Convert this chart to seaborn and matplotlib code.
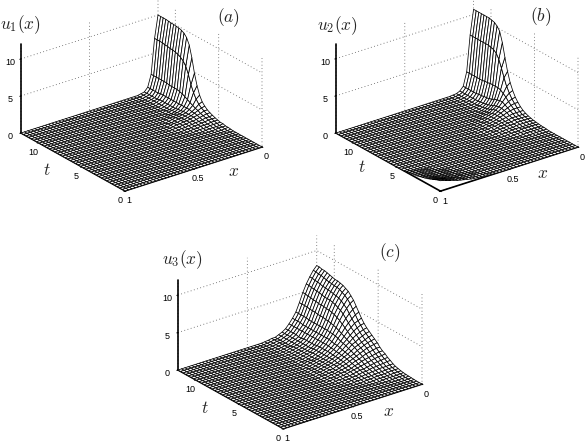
import numpy as np
import matplotlib
matplotlib.use('Agg')
import matplotlib.pyplot as plt
import seaborn as sns
from mpl_toolkits.mplot3d import proj3d

# rows run from t=12 down to t=0, columns from x=0 up, trailing zeros left out
u1_rows = [
    [10, 7, 2.3, .7, .2, .1], [10, 7, 2.3, .7, .2, .1], [10, 7, 2.3, .7, .2, .1], [10, 7, 2.3, .7, .2, .1],
    [9.95, 6.9, 2.3, .7, .2, .1], [9.9, 6.9, 2.3, .8, .2, .1], [9.9, 6.8, 2.3, .8, .3, .1],
    [9.85, 6.8, 2.2, .8, .3, .1], [9.8, 6.7, 2.2, .8, .3, .1], [9.7, 6.6, 2.2, .8, .3, .1],
    [9.5, 6.4, 2.2, .8, .3, .1], [9.1, 6.1, 2.1, .8, .3, .1, .1], [8.3, 5.6, 2, .8, .3, .2, .1],
    [6.8, 4.7, 1.8, .8, .4, .2, .1, .1], [4.9, 3.5, 1.6, .8, .4, .3, .2, .2, .1],
    [3.4, 2.6, 1.4, .8, .5, .3, .3, .2, .2, .1], [2.3, 1.9, 1.2, .8, .5, .4, .3, .3, .2, .1],
    [1.6, 1.4, 1, .7, .5, .4, .3, .3, .2, .1, .1], [1.2, 1.1, .9, .7, .5, .4, .3, .3, .2, .2, .1],
    [.9, .9, .7, .6, .5, .4, .3, .3, .2, .2, .1, .05], [.7, .7, .6, .5, .4, .3, .3, .2, .2, .1, .1, .05],
    [.55, .5, .5, .4, .3, .3, .2, .2, .1, .1, .05], [.4, .4, .4, .3, .3, .2, .2, .1, .1, .05],
    [.3, .3, .3, .2, .2, .2, .1, .1, .05], [.2, .2, .2, .2, .1, .1, .1, .05],
    [.2, .1, .1, .1, .1, .05], [.1, .1, .1, .05], [.1, .05], [.05],
]
u2_rows = [
    [10.7, 7.4, 2.6, .8, .3, .1, .05], [10.7, 7.4, 2.6, .8, .3, .1, .05], [10.7, 7.4, 2.6, .8, .3, .1, .05],
    [10.7, 7.4, 2.6, .8, .3, .1, .05], [10.7, 7.4, 2.6, .8, .3, .1, .05], [10.7, 7.4, 2.6, .8, .3, .1, .05],
    [10.7, 7.4, 2.6, .9, .3, .1, .05], [10.6, 7.4, 2.7, .9, .3, .1, .05], [10.5, 7.3, 2.7, 1, .4, .1, .05],
    [10.2, 7.2, 2.8, 1, .4, .2, .1], [9.7, 6.9, 2.8, 1.1, .5, .2, .1], [8.4, 6.3, 2.8, 1.2, .6, .3, .1, .05],
    [6.6, 5.3, 2.8, 1.4, .7, .4, .2, .1, .05], [4.9, 4.2, 2.7, 1.5, .9, .5, .3, .2, .1, .05],
    [3.6, 3.2, 2.4, 1.6, 1, .7, .4, .3, .2, .1, .05], [2.7, 2.5, 2.1, 1.6, 1.1, .8, .5, .4, .2, .2, .1, .05],
    [2, 1.9, 1.7, 1.4, 1.1, .8, .6, .4, .3, .2, .1, .1, .05], [1.5, 1.5, 1.4, 1.2, 1, .8, .6, .4, .3, .2, .2, .1, .05],
    [1.1, 1.1, 1.1, 1, .9, .7, .6, .4, .3, .2, .2, .1, .1, .05], [.8, .8, .8, .8, .7, .6, .5, .4, .3, .2, .2, .1, .1, .05],
    [.6, .6, .6, .6, .6, .5, .4, .4, .3, .2, .2, .1, .1, .05], [.45, .5, .5, .5, .5, .4, .4, .3, .3, .2, .1, .1, .05],
    [.35, .4, .4, .4, .4, .3, .3, .3, .2, .2, .1, .1, .05], [.25, .3, .3, .3, .3, .3, .2, .2, .2, .1, .1, .05],
    [.2, .2, .2, .2, .2, .2, .2, .2, .1, .1, .05], [.15, .2, .2, .2, .2, .2, .1, .1, .1, .05],
    [.1, .1, .1, .1, .1, .1, .1, .1, .05], [.1, .1, .1, .1, .1, .1, .05], [.05, .05, .05, .05, .05],
]
# lifted corner of u2: rows from t=0 up, columns from x=1 down
u2_corner_rows = [
    [1.4, 1.3, 1.15, 1, .85, .7, .6, .5, .4, .3, .25, .2, .15, .1, .08, .05, .03],
    [1.3, 1.2, 1.05, .9, .8, .65, .55, .45, .35, .3, .2, .15, .1, .1, .05],
    [1.15, 1.05, .95, .8, .7, .6, .5, .4, .3, .25, .2, .15, .1, .05],
    [1, .9, .8, .7, .6, .5, .4, .35, .3, .2, .15, .1, .05],
    [.85, .8, .7, .6, .5, .45, .35, .3, .2, .15, .1, .05],
    [.7, .65, .6, .5, .45, .35, .3, .25, .2, .1, .05],
    [.6, .55, .5, .4, .35, .3, .25, .2, .15, .1, .05],
    [.5, .45, .4, .35, .3, .25, .2, .15, .1, .05],
    [.4, .35, .3, .3, .25, .2, .15, .1, .05],
    [.3, .3, .25, .2, .2, .15, .1, .05],
    [.25, .2, .2, .15, .15, .1, .05],
    [.2, .15, .15, .1, .1, .05],
    [.15, .1, .1, .05],
    [.1, .05],
]
u3_rows = [
    [8, 7.5, 6.8, 6, 5, 3.8, 2.7, 2, 1.4, .9, .6, .4, .2, .2, .1, .05],
    [8, 7.5, 6.8, 6, 5, 3.8, 2.7, 2, 1.4, .9, .6, .4, .2, .2, .1, .05],
    [7.9, 7.4, 6.7, 5.9, 4.9, 3.8, 2.7, 2, 1.4, .9, .6, .4, .2, .2, .1, .05],
    [7.9, 7.4, 6.7, 5.9, 4.9, 3.8, 2.7, 2, 1.4, .9, .6, .4, .2, .2, .1, .05],
    [7.8, 7.3, 6.6, 5.8, 4.8, 3.7, 2.7, 1.9, 1.4, .9, .6, .4, .2, .2, .1, .05],
    [7.7, 7.2, 6.5, 5.8, 4.8, 3.7, 2.6, 1.9, 1.4, .8, .6, .4, .2, .2, .1, .05],
    [7.6, 7.1, 6.5, 5.7, 4.7, 3.7, 2.6, 1.9, 1.4, .8, .6, .4, .2, .2, .1, .05],
    [7.5, 7.1, 6.4, 5.6, 4.7, 3.6, 2.6, 1.9, 1.4, .9, .6, .4, .3, .2, .1, .05],
    [7.5, 7, 6.4, 5.6, 4.7, 3.6, 2.6, 1.9, 1.4, .9, .6, .4, .3, .2, .1, .05],
    [7.4, 7, 6.3, 5.6, 4.6, 3.6, 2.6, 1.9, 1.4, .9, .6, .4, .3, .2, .1, .05],
    [7.3, 6.9, 6.2, 5.5, 4.6, 3.5, 2.6, 1.9, 1.4, .9, .6, .4, .3, .2, .1, .05],
    [7.1, 6.7, 6.1, 5.4, 4.5, 3.5, 2.6, 1.9, 1.4, .9, .6, .4, .3, .2, .1, .05],
    [6.9, 6.5, 5.9, 5.2, 4.4, 3.4, 2.6, 1.9, 1.4, 1, .7, .4, .3, .2, .1, .05],
    [6.5, 6.2, 5.6, 5, 4.2, 3.3, 2.5, 1.9, 1.4, 1, .7, .5, .3, .2, .1, .1],
    [6.1, 5.8, 5.3, 4.7, 4, 3.2, 2.5, 1.9, 1.4, 1, .7, .5, .3, .2, .1, .1],
    [5.5, 5.2, 4.8, 4.3, 3.7, 3, 2.4, 1.8, 1.4, 1, .7, .5, .3, .2, .2, .1],
    [4.9, 4.7, 4.3, 3.9, 3.4, 2.8, 2.3, 1.7, 1.3, 1, .7, .5, .4, .3, .2, .1, .05],
    [4.3, 4.1, 3.9, 3.5, 3.1, 2.6, 2.1, 1.7, 1.3, 1, .7, .5, .4, .3, .2, .1, .05],
    [3.8, 3.7, 3.5, 3.2, 2.8, 2.4, 2, 1.6, 1.2, .9, .7, .5, .4, .3, .2, .1, .1],
    [3.4, 3.3, 3.1, 2.9, 2.6, 2.2, 1.9, 1.5, 1.2, .9, .7, .5, .4, .3, .2, .1, .1],
    [3.1, 3, 2.8, 2.6, 2.3, 2.1, 1.7, 1.4, 1.1, .9, .7, .5, .4, .3, .2, .1, .1],
    [2.8, 2.7, 2.5, 2.3, 2.1, 1.9, 1.6, 1.3, 1.1, .8, .6, .5, .4, .3, .2, .1, .1],
    [2.5, 2.4, 2.3, 2.1, 1.9, 1.7, 1.4, 1.2, 1, .8, .6, .5, .3, .3, .2, .1, .1],
    [2.2, 2.1, 2, 1.9, 1.7, 1.5, 1.3, 1.1, .9, .7, .6, .4, .3, .2, .2, .1, .1],
    [1.8, 1.8, 1.7, 1.6, 1.5, 1.3, 1.1, 1, .8, .6, .5, .4, .3, .2, .2, .1, .05],
    [1.5, 1.5, 1.4, 1.3, 1.2, 1.1, 1, .8, .7, .5, .4, .3, .3, .2, .1, .1, .05],
    [1.3, 1.2, 1.2, 1.1, 1, .9, .8, .7, .6, .5, .4, .3, .2, .2, .1, .1, .05],
    [1, 1, .9, .9, .8, .7, .6, .5, .5, .4, .3, .2, .2, .1, .1, .05],
    [.8, .8, .7, .7, .6, .6, .5, .4, .4, .3, .2, .2, .1, .1, .05],
    [.55, .55, .5, .5, .5, .4, .4, .3, .3, .2, .2, .1, .1, .05],
    [.4, .4, .4, .35, .3, .3, .25, .2, .2, .15, .1, .1, .05],
    [.3, .3, .3, .25, .2, .2, .2, .15, .1, .1, .05],
    [.2, .2, .2, .15, .15, .1, .1, .1, .05],
    [.15, .15, .1, .1, .1, .1, .05],
    [.1, .1, .1, .05, .05],
    [.08, .05, .05],
    [.05, .03],
    [.03],
]
x_ticks = [0, 0.5, 1]
t_ticks = [0, 5, 10]
u_ticks = [0, 5, 10]

N = 41
W, H = 586, 441

sns.set_style('white')
plt.rcParams['font.family'] = ['Liberation Sans', 'DejaVu Sans']
plt.rcParams['mathtext.fontset'] = 'cm'

fig = plt.figure(figsize=(W / 100, H / 100), dpi=100)


def to_grid(rows):
    grid = np.zeros((N, N))
    for j, row in enumerate(rows):
        grid[j, :len(row)] = row
    return grid


def corner_px(ax, x, t):
    ax.apply_aspect()
    px, py, _ = proj3d.proj_transform(x, t, 0, ax.get_proj())
    return ax.transData.transform((px, py))


def place(ax, left, right):
    # size and shift the axes so the floor corners land on these pixels
    side = 300.0
    ax.set_position([0.2, 0.2, side / W, side / H])
    fig.canvas.draw()
    a = corner_px(ax, 1, 12)
    b = corner_px(ax, 0, 0)
    side *= (right[0] - left[0]) / (b[0] - a[0])
    ax.set_position([0.2, 0.2, side / W, side / H])
    fig.canvas.draw()
    a = corner_px(ax, 1, 12)
    dx = left[0] - a[0]
    dy = (H - left[1]) - a[1]
    ax.set_position([0.2 + dx / W, 0.2 + dy / H, side / W, side / H])


def panel(u, left, right):
    ax = fig.add_axes([0.2, 0.2, 0.5, 0.5], projection='3d', computed_zorder=False)
    ax.set_proj_type('ortho')
    ax.view_init(elev=25, azim=-127.2)
    ax.set_box_aspect((1, 1, 0.57))
    ax.patch.set_alpha(0)

    xs = np.linspace(0, 1, N)
    ts = np.linspace(12, 0, N)
    X, T = np.meshgrid(xs, ts)
    ax.plot_surface(X, T, u, rstride=1, cstride=1, color='white', edgecolor='black',
                    linewidth=0.55, shade=False)

    ax.set_xlim(1, 0, view_margin=0)
    ax.set_ylim(0, 12, view_margin=0)
    ax.set_zlim(0, 12, view_margin=0)
    ax.set_xticks(x_ticks)
    ax.set_xticklabels(['0', '0.5', '1'])
    ax.set_yticks(t_ticks)
    ax.set_zticks(u_ticks)
    ax.tick_params(labelsize=6.5, colors='black')
    ax.xaxis.set_tick_params(pad=-4.4)
    ax.yaxis.set_tick_params(pad=-4.4)
    ax.zaxis.set_tick_params(pad=-3.6)
    for axis in (ax.xaxis, ax.yaxis, ax.zaxis):
        axis.set_pane_color((1, 1, 1, 0))
        axis.pane.set_edgecolor((1, 1, 1, 0))
        axis.line.set_linewidth(1.2)
        axis.line.set_color('black')
        axis._axinfo['grid'].update(color='0.35', linestyle=(0, (1, 3)), linewidth=0.6)
        axis._axinfo['tick'].update(inward_factor=0.1, outward_factor=0.0)
    place(ax, left, right)
    return ax


u1 = to_grid(u1_rows)
u2 = to_grid(u2_rows)
u2[::-1, ::-1] += to_grid(u2_corner_rows)
u3 = to_grid(u3_rows)

panel(u1, (21, 133), (262, 147))
panel(u2, (336, 133), (578, 147))
panel(u3, (178, 370), (422, 380))

labels = [
    (20, 25, r'$u_1(x)$'), (229, 18, r'$(a)$'), (47, 170, r'$t$'), (234, 171, r'$x$'),
    (337, 26, r'$u_2(x)$'), (541, 17, r'$(b)$'), (362, 167, r'$t$'), (543, 173, r'$x$'),
    (182, 260, r'$u_3(x)$'), (390, 253, r'$(c)$'), (205, 408, r'$t$'), (389, 412, r'$x$'),
]
for lx, ly, txt in labels:
    fig.text(lx / W, 1 - ly / H, txt, fontsize=12.5, ha='center', va='center')

fig.savefig('out.png', dpi=100)
